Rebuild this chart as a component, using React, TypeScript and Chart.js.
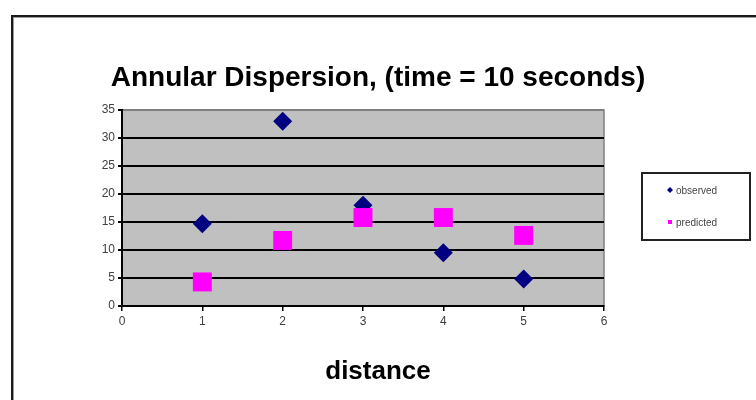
import React, { useEffect, useRef } from 'react';
import { Chart, registerables } from 'chart.js';

Chart.register(...registerables);

const distances = [1, 2, 3, 4, 5];
const observed = [14.7, 33.0, 18.0, 9.5, 4.8];
const predicted = [4.3, 11.7, 15.8, 15.8, 12.6];
const seriesNames = ['observed', 'predicted'];
const seriesColors = ['#000080', '#ff00ff'];
const titleText = 'Annular Dispersion, (time = 10 seconds)';
const xTitleText = 'distance';
const xMin = 0;
const xMax = 6;
const yMin = 0;
const yMax = 35;
const yStep = 5;

const framePlugin = {
  id: 'frame',
  beforeDraw(chart: any) {
    const { ctx, chartArea } = chart;
    ctx.save();
    ctx.fillStyle = '#ffffff';
    ctx.fillRect(0, 0, chart.width, chart.height);
    // outer frame
    ctx.strokeStyle = '#9a9a9a';
    ctx.lineWidth = 1;
    ctx.strokeRect(13.5, 17.5, 900, 600);
    ctx.strokeStyle = '#1a1a1a';
    ctx.lineWidth = 2;
    ctx.strokeRect(12, 16, 900, 600);
    // plot area
    ctx.fillStyle = '#c0c0c0';
    ctx.fillRect(chartArea.left, chartArea.top, chartArea.right - chartArea.left, chartArea.bottom - chartArea.top);
    ctx.strokeStyle = '#808080';
    ctx.lineWidth = 1.5;
    ctx.strokeRect(chartArea.left, chartArea.top, chartArea.right - chartArea.left, chartArea.bottom - chartArea.top);
    ctx.restore();
  },
};

const boxLegendPlugin = {
  id: 'boxLegend',
  afterDraw(chart: any) {
    const { ctx } = chart;
    const bx = 642;
    const by = 173;
    const bw = 108;
    const bh = 67;
    ctx.save();
    ctx.fillStyle = '#ffffff';
    ctx.fillRect(bx, by, bw, bh);
    ctx.strokeStyle = '#222222';
    ctx.lineWidth = 2;
    ctx.strokeRect(bx, by, bw, bh);
    const ds = chart.data.datasets;
    const rows = [190, 222];
    ds.forEach((d: any, i: number) => {
      const y = rows[i];
      const mx = 670;
      ctx.fillStyle = d.backgroundColor;
      if (d.pointStyle === 'rectRot') {
        ctx.beginPath();
        ctx.moveTo(mx, y - 3);
        ctx.lineTo(mx + 3, y);
        ctx.lineTo(mx, y + 3);
        ctx.lineTo(mx - 3, y);
        ctx.closePath();
        ctx.fill();
      } else {
        ctx.fillRect(mx - 2, y - 2, 4, 4);
      }
      ctx.fillStyle = '#444444';
      ctx.font = '10px Arial, "Liberation Sans", sans-serif';
      ctx.textBaseline = 'middle';
      ctx.textAlign = 'left';
      ctx.fillText(d.label, 676, y + 1);
    });
    ctx.restore();
  },
};

export default function App() {
  const canvasRef = useRef<HTMLCanvasElement | null>(null);

  useEffect(() => {
    document.body.style.margin = '0';
    const canvas = canvasRef.current;
    if (!canvas) return;
    const font = 'Arial, "Liberation Sans", sans-serif';
    const chart = new Chart(canvas, {
      type: 'scatter',
      data: {
        datasets: [
          {
            label: seriesNames[0],
            data: distances.map((x, i) => ({ x, y: observed[i] })),
            pointStyle: 'rectRot',
            radius: 9.5,
            hoverRadius: 9.5,
            backgroundColor: seriesColors[0],
            borderColor: seriesColors[0],
            borderWidth: 0,
            order: 2,
          },
          {
            label: seriesNames[1],
            data: distances.map((x, i) => ({ x, y: predicted[i] })),
            pointStyle: 'rect',
            radius: 13.4,
            hoverRadius: 13.4,
            backgroundColor: seriesColors[1],
            borderColor: seriesColors[1],
            borderWidth: 0,
            order: 1,
          },
        ] as any,
      },
      options: {
        animation: false,
        responsive: false,
        maintainAspectRatio: false,
        layout: { padding: 0 },
        plugins: {
          legend: { display: false },
          tooltip: { enabled: false },
          title: {
            display: true,
            text: titleText,
            color: '#000000',
            font: { family: font, size: 28, weight: 'bold' },
            padding: { top: 61.2, bottom: 15.2 },
          },
          subtitle: {
            display: true,
            position: 'bottom',
            text: xTitleText,
            color: '#000000',
            font: { family: font, size: 26, weight: 'bold' },
            padding: { top: 20.4, bottom: 12.4 },
          },
        },
        scales: {
          x: {
            type: 'linear',
            min: xMin,
            max: xMax,
            ticks: { stepSize: 1, color: '#404040', font: { family: font, size: 12 }, padding: 3 },
            grid: { drawOnChartArea: false, drawTicks: true, tickLength: 5, color: '#000000', lineWidth: 1.5 },
            border: { display: true, color: '#000000', width: 2 },
            afterFit: (s: any) => { s.height = 30; },
          },
          y: {
            type: 'linear',
            min: yMin,
            max: yMax,
            ticks: { stepSize: yStep, color: '#404040', font: { family: font, size: 12 }, padding: 3 },
            grid: {
              color: (c: any) => (c.tick && c.tick.value === yMax ? '#808080' : '#000000'),
              lineWidth: 2,
              tickLength: 4,
              tickColor: '#000000',
            },
            border: { display: true, color: '#000000', width: 2 },
            afterFit: (s: any) => { s.width = 122; },
          },
          yRight: {
            type: 'linear',
            position: 'right',
            display: true,
            ticks: { display: false },
            grid: { display: false },
            border: { display: false },
            afterFit: (s: any) => { s.width = 152; },
          },
        },
      } as any,
      plugins: [framePlugin, boxLegendPlugin],
    });
    return () => chart.destroy();
  }, []);

  return (
    <div style={{ width: 756, height: 400 }}>
      <canvas ref={canvasRef} width={756} height={400} />
    </div>
  );
}
